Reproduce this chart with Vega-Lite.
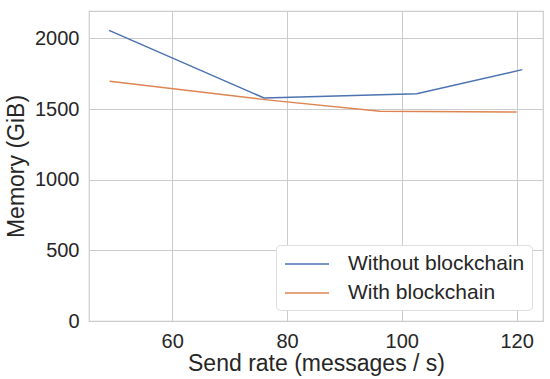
{
  "$schema": "https://vega.github.io/schema/vega-lite/v6.json",
  "width": 454,
  "height": 310,
  "autosize": {"type": "none"},
  "padding": {"left": 89, "top": 11, "right": 7, "bottom": 58},
  "background": "white",
  "data": {
    "values": [
      {"series": "Without blockchain", "rate": 49.0, "memory": 2057},
      {"series": "Without blockchain", "rate": 76.0, "memory": 1578},
      {"series": "Without blockchain", "rate": 102.6, "memory": 1608},
      {"series": "Without blockchain", "rate": 121.0, "memory": 1779},
      {"series": "With blockchain", "rate": 49.1, "memory": 1696},
      {"series": "With blockchain", "rate": 76.5, "memory": 1565},
      {"series": "With blockchain", "rate": 96.2, "memory": 1484},
      {"series": "With blockchain", "rate": 120.0, "memory": 1479}
    ]
  },
  "mark": {"type": "line", "strokeWidth": 1.5},
  "encoding": {
    "x": {
      "field": "rate", "type": "quantitative",
      "scale": {"domain": [45.5, 124.6], "nice": false, "zero": false},
      "axis": {"values": [60, 80, 100, 120], "format": "d", "title": "Send rate (messages / s)"}
    },
    "y": {
      "field": "memory", "type": "quantitative",
      "scale": {"domain": [0, 2194], "nice": false},
      "axis": {"values": [0, 500, 1000, 1500, 2000], "format": "d", "title": "Memory (GiB)"}
    },
    "color": {
      "field": "series", "type": "nominal",
      "sort": ["Without blockchain", "With blockchain"],
      "scale": {"domain": ["Without blockchain", "With blockchain"], "range": ["#4c72b0", "#dd8452"]},
      "legend": {
        "title": null,
        "orient": "bottom-right",
        "offset": 11,
        "symbolType": "M-2,0H2",
        "symbolSize": 484,
        "symbolStrokeWidth": 1.5,
        "symbolOffset": 12,
        "labelFontSize": 21,
        "labelFont": "Liberation Sans",
        "labelColor": "#262626",
        "labelOffset": 29,
        "labelLimit": 0,
        "rowPadding": 7,
        "fillColor": "white",
        "strokeColor": "#dddddd",
        "cornerRadius": 4,
        "padding": 7
      }
    }
  },
  "config": {
    "view": {"stroke": "#cccccc", "strokeWidth": 1.2},
    "axis": {
      "grid": true,
      "gridColor": "#cccccc",
      "gridWidth": 1,
      "domain": false,
      "ticks": false,
      "labelFont": "Liberation Sans",
      "labelFontSize": 20,
      "labelColor": "#262626",
      "labelPadding": 10,
      "titleFont": "Liberation Sans",
      "titleFontSize": 23,
      "titleFontWeight": "normal",
      "titleColor": "#262626"
    },
    "axisX": {"titlePadding": 1},
    "axisY": {"titlePadding": 6}
  }
}
